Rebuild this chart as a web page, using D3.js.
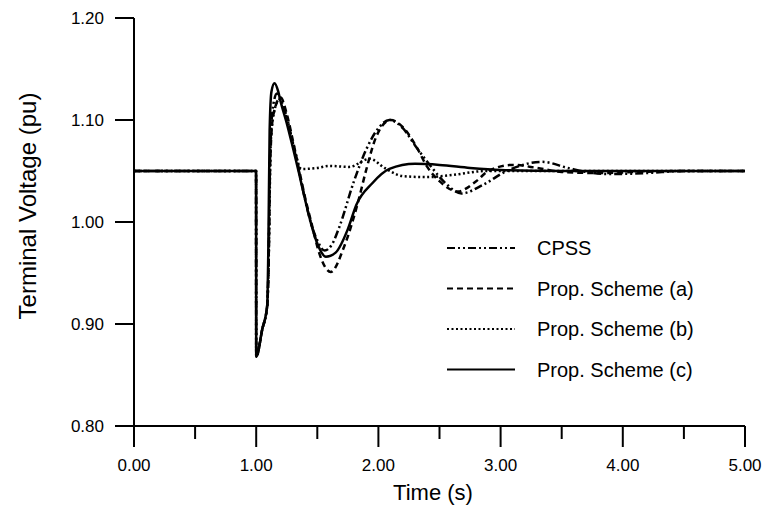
<!DOCTYPE html>
<html lang="en">
<head>
  <meta charset="UTF-8">
  <title>Terminal Voltage Response</title>
  <script src="https://d3js.org/d3.v7.min.js"></script>
  <style>
    body { margin: 0; background: #fff; }
    svg { display: block; font-family: "Liberation Sans", Arial, sans-serif; }
  </style>
</head>
<body>
  <svg id="chart" width="768" height="514"></svg>

  <script>
    // Series (time in s, voltage in pu)
    const cpssT = [0, 0.999, 1.0, 1.05, 1.09, 1.10, 1.115, 1.14, 1.17, 1.2, 1.25, 1.3, 1.35, 1.4, 1.45, 1.5, 1.56, 1.62, 1.68, 1.8, 1.9, 2.0, 2.09, 2.2, 2.3, 2.42, 2.55, 2.68, 2.85, 3.05, 3.34, 3.55, 3.7, 3.9, 4.2, 4.5, 5.0];
    const cpssV = [1.05, 1.05, 0.868, 0.895, 0.918, 0.95, 1.07, 1.115, 1.126, 1.12, 1.103, 1.077, 1.05, 1.022, 0.998, 0.982, 0.972, 0.978, 0.995, 1.040, 1.071, 1.092, 1.100, 1.092, 1.075, 1.056, 1.038, 1.028, 1.036, 1.050, 1.059, 1.053, 1.049, 1.047, 1.048, 1.050, 1.050];

    const schemeAT = [0, 0.999, 1.0, 1.05, 1.09, 1.10, 1.115, 1.14, 1.2, 1.25, 1.3, 1.35, 1.4, 1.45, 1.52, 1.61, 1.72, 1.83, 1.9, 1.98, 2.1, 2.2, 2.31, 2.4, 2.5, 2.65, 2.8, 2.9, 3.1, 3.3, 3.5, 3.8, 4.1, 4.5, 5.0];
    const schemeAV = [1.05, 1.05, 0.868, 0.895, 0.918, 0.95, 1.06, 1.105, 1.122, 1.106, 1.08, 1.052, 1.024, 1.0, 0.968, 0.951, 0.976, 1.018, 1.051, 1.083, 1.100, 1.093, 1.074, 1.054, 1.040, 1.030, 1.040, 1.050, 1.056, 1.053, 1.049, 1.048, 1.049, 1.050, 1.050];

    const schemeBT = [0, 0.999, 1.0, 1.05, 1.09, 1.10, 1.12, 1.15, 1.19, 1.25, 1.3, 1.37, 1.5, 1.6, 1.76, 1.93, 2.05, 2.2, 2.4, 2.6, 2.88, 5.0];
    const schemeBV = [1.05, 1.05, 0.868, 0.895, 0.918, 0.95, 1.08, 1.11, 1.12, 1.102, 1.078, 1.052, 1.053, 1.055, 1.054, 1.062, 1.053, 1.045, 1.044, 1.046, 1.050, 1.050];

    const schemeCT = [0, 0.999, 1.0, 1.05, 1.09, 1.10, 1.11, 1.125, 1.15, 1.18, 1.2, 1.25, 1.3, 1.35, 1.4, 1.45, 1.5, 1.57, 1.65, 1.75, 1.82, 1.95, 2.09, 2.3, 2.5, 2.75, 3.0, 3.5, 5.0];
    const schemeCV = [1.05, 1.05, 0.868, 0.895, 0.918, 0.98, 1.09, 1.128, 1.136, 1.128, 1.118, 1.097, 1.073, 1.048, 1.022, 0.998, 0.979, 0.966, 0.970, 0.993, 1.017, 1.038, 1.052, 1.057, 1.056, 1.053, 1.051, 1.050, 1.050];

    const seriesNames = ['CPSS', 'Prop. Scheme (a)', 'Prop. Scheme (b)', 'Prop. Scheme (c)'];
    const xTicks = [0, 1, 2, 3, 4, 5];
    const xMinorTicks = [0.5, 1.5, 2.5, 3.5, 4.5];
    const yTicks = [0.8, 0.9, 1.0, 1.1, 1.2];

    const dashes = ['8,3,2,3,2,3', '6,4', '2,2.5', null];

    const svg = d3.select('#chart');

    const x = d3.scaleLinear().domain([0, 5]).range([134, 745]);
    const y = d3.scaleLinear().domain([0.8, 1.2]).range([426, 18]);

    const zip = (ts, vs) => ts.map((t, i) => [t, vs[i]]);
    const series = [
      zip(cpssT, cpssV),
      zip(schemeAT, schemeAV),
      zip(schemeBT, schemeBV),
      zip(schemeCT, schemeCV)
    ];

    const line = d3.line()
      .x(d => x(d[0]))
      .y(d => y(d[1]))
      .curve(d3.curveMonotoneX);

    // curves
    svg.append('g').selectAll('path')
      .data(series)
      .join('path')
        .attr('d', line)
        .attr('fill', 'none')
        .attr('stroke', '#000')
        .attr('stroke-width', 2.5)
        .attr('stroke-linejoin', 'round')
        .attr('stroke-dasharray', (d, i) => dashes[i]);

    // x axis
    const xAxis = svg.append('g').attr('transform', `translate(0,${y(0.8)})`);
    xAxis.append('line')
      .attr('x1', x(0)).attr('x2', x(5))
      .attr('stroke', '#000').attr('stroke-width', 2);
    xAxis.selectAll('.major')
      .data(xTicks)
      .join('line')
        .attr('class', 'major')
        .attr('x1', d => x(d)).attr('x2', d => x(d))
        .attr('y1', 0).attr('y2', 21)
        .attr('stroke', '#000').attr('stroke-width', 2);
    xAxis.selectAll('.minor')
      .data(xMinorTicks)
      .join('line')
        .attr('class', 'minor')
        .attr('x1', d => x(d)).attr('x2', d => x(d))
        .attr('y1', 0).attr('y2', 13)
        .attr('stroke', '#000').attr('stroke-width', 2);
    xAxis.selectAll('text')
      .data(xTicks)
      .join('text')
        .attr('x', d => x(d))
        .attr('y', 45)
        .attr('text-anchor', 'middle')
        .attr('font-size', 17)
        .text(d => d.toFixed(2));

    // y axis
    const yAxis = svg.append('g').attr('transform', `translate(${x(0)},0)`);
    yAxis.append('line')
      .attr('y1', y(1.2)).attr('y2', y(0.8))
      .attr('stroke', '#000').attr('stroke-width', 2);
    yAxis.selectAll('.tick')
      .data(yTicks)
      .join('line')
        .attr('class', 'tick')
        .attr('x1', -19).attr('x2', 0)
        .attr('y1', d => y(d)).attr('y2', d => y(d))
        .attr('stroke', '#000').attr('stroke-width', 2);
    yAxis.selectAll('text')
      .data(yTicks)
      .join('text')
        .attr('x', -30)
        .attr('y', d => y(d))
        .attr('dy', '0.35em')
        .attr('text-anchor', 'end')
        .attr('font-size', 17)
        .text(d => d.toFixed(2));

    // axis titles
    svg.append('text')
      .attr('x', 433).attr('y', 500)
      .attr('text-anchor', 'middle')
      .attr('font-size', 22)
      .text('Time (s)');
    svg.append('text')
      .attr('transform', 'translate(36,206) rotate(-90)')
      .attr('text-anchor', 'middle')
      .attr('font-size', 24)
      .text('Terminal Voltage (pu)');

    // legend
    const legend = svg.append('g');
    const rows = legend.selectAll('g')
      .data(seriesNames)
      .join('g')
        .attr('transform', (d, i) => `translate(0,${248 + i * 40.5})`);
    rows.append('line')
      .attr('x1', 447).attr('x2', 515)
      .attr('stroke', '#000')
      .attr('stroke-width', 2)
      .attr('stroke-dasharray', (d, i) => dashes[i]);
    rows.append('text')
      .attr('x', 537)
      .attr('dy', '0.35em')
      .attr('font-size', 20)
      .text(d => d);
  </script>
</body>
</html>
